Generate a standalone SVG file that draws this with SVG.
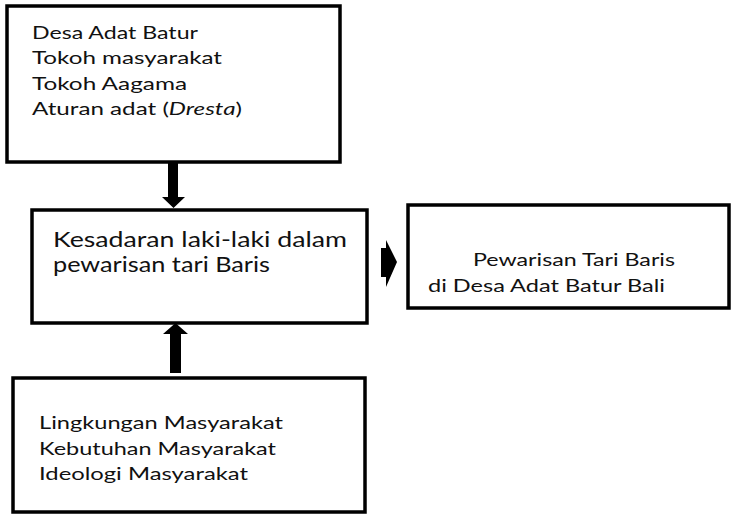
<svg xmlns="http://www.w3.org/2000/svg" width="732" height="514" viewBox="0 0 732 514">
<style>
.box{fill:#fff;stroke:#000;stroke-width:3.5}
.t{font-family:Lato,"Open Sans","DejaVu Sans",sans-serif;font-size:18px;fill:#111}
.tm{font-size:20.8px}
.arr{fill:#000}
</style>
<rect x="0" y="0" width="732" height="514" fill="#fff"/>
<g id="node-top">
<rect class="box" x="7" y="6" width="333" height="156"/>
<text class="t" x="32" y="39" textLength="166" lengthAdjust="spacingAndGlyphs">Desa Adat Batur</text>
<text class="t" x="32" y="64" textLength="190" lengthAdjust="spacingAndGlyphs">Tokoh masyarakat</text>
<text class="t" x="32" y="90" textLength="155" lengthAdjust="spacingAndGlyphs">Tokoh Aagama</text>
<text class="t" x="32" y="115" textLength="210" lengthAdjust="spacingAndGlyphs">Aturan adat (<tspan font-style="italic">Dresta</tspan>)</text>
</g>
<g id="node-middle">
<rect class="box" x="32" y="210" width="335" height="113"/>
<text class="t tm" x="53" y="247" textLength="294" lengthAdjust="spacingAndGlyphs">Kesadaran laki-laki dalam</text>
<text class="t tm" x="53" y="272" textLength="217" lengthAdjust="spacingAndGlyphs">pewarisan tari Baris</text>
</g>
<g id="node-right">
<rect class="box" x="408" y="205" width="321" height="103"/>
<text class="t" x="473" y="266" textLength="202" lengthAdjust="spacingAndGlyphs">Pewarisan Tari Baris</text>
<text class="t" x="428" y="292" textLength="237" lengthAdjust="spacingAndGlyphs">di Desa Adat Batur Bali</text>
</g>
<g id="node-bottom">
<rect class="box" x="13" y="378" width="352" height="134"/>
<text class="t" x="39" y="429" textLength="244" lengthAdjust="spacingAndGlyphs">Lingkungan Masyarakat</text>
<text class="t" x="39" y="455" textLength="237" lengthAdjust="spacingAndGlyphs">Kebutuhan Masyarakat</text>
<text class="t" x="39" y="480" textLength="209" lengthAdjust="spacingAndGlyphs">Ideologi Masyarakat</text>
</g>
<g id="connectors">
<polygon class="arr" points="168,163 178,163 178,197 185,197 173.5,208 162,197 168,197"/>
<polygon class="arr" points="170,373 181,373 181,334 188,334 175.5,323 163,334 170,334"/>
<polygon class="arr" points="381,248 386,248 386,240 397,262 386,287 386,277 381,277"/>
</g>
</svg>
